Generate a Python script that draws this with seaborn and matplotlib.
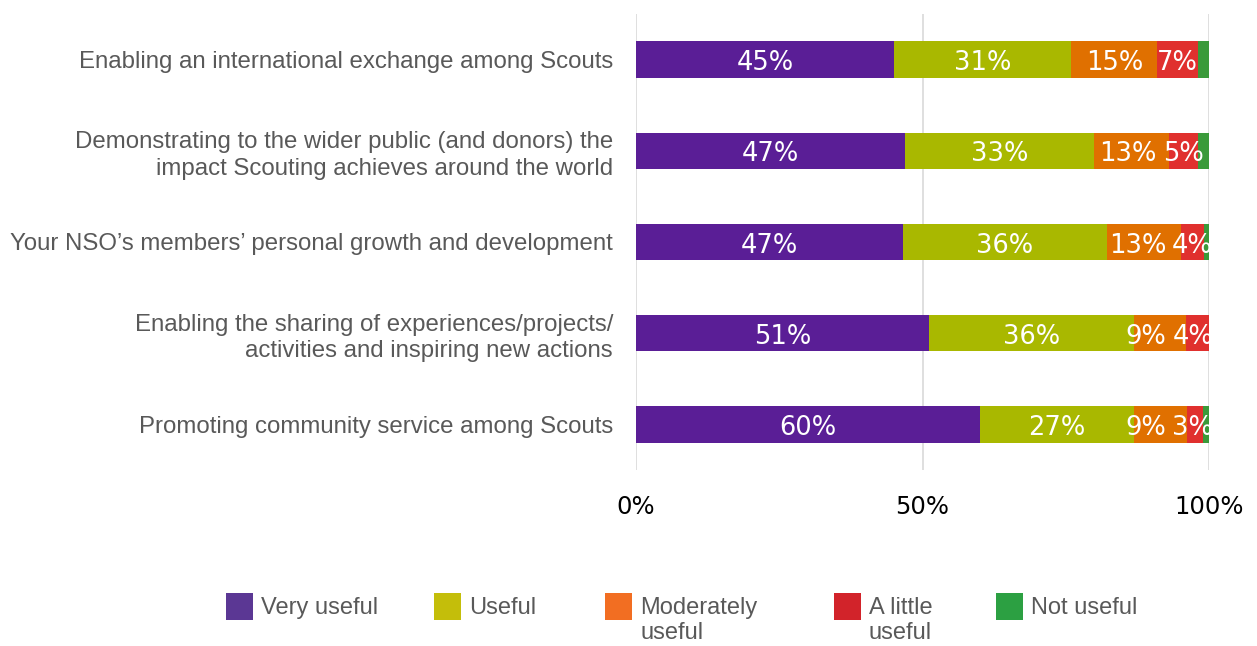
import matplotlib
matplotlib.use("Agg")
import matplotlib.pyplot as plt
from matplotlib.patches import Rectangle
import seaborn as sns
import numpy as np
import pandas as pd

categories = [
    "Enabling an international exchange among Scouts",
    "Demonstrating to the wider public (and donors) the\nimpact Scouting achieves around the world",
    "Your NSO\u2019s members\u2019 personal growth and development",
    "Enabling the sharing of experiences/projects/\nactivities and inspiring new actions",
    "Promoting community service among Scouts",
]
series_names = ["Very useful", "Useful", "Moderately\nuseful", "A little\nuseful", "Not useful"]
very_useful = [45.0, 47.0, 46.6, 51.1, 60.0]
useful = [31.0, 33.0, 35.6, 35.8, 26.9]
moderately_useful = [15.0, 13.0, 12.9, 9.1, 9.3]
a_little_useful = [7.0, 5.0, 4.0, 4.0, 2.8]
not_useful = [2.0, 2.0, 0.9, 0.0, 1.0]
tick_values = [0, 50, 100]
tick_labels = ["0%", "50%", "100%"]

bar_colors = ["#5A1E96", "#A9B800", "#E07000", "#E0302E", "#3A9A3A"]
legend_colors = ["#5B3794", "#C4BE0A", "#F26E22", "#D2232A", "#2CA042"]

sns.set_theme(style="white")
plt.rcParams["font.family"] = ["DejaVu Sans"]

W, H = 1257, 646
fig = plt.figure(figsize=(W / 100, H / 100), dpi=100)
ax = fig.add_axes([636 / W, 1 - 470 / H, 573 / W, 456 / H])

values = [very_useful, useful, moderately_useful, a_little_useful, not_useful]
cum = np.cumsum(np.array(values), axis=0)

# stacked bars: draw cumulative totals back to front
for i in range(len(values) - 1, -1, -1):
    df = pd.DataFrame({"cat": categories, "val": cum[i]})
    sns.barplot(data=df, x="val", y="cat", orient="h", color=bar_colors[i],
                saturation=1, width=0.4, errorbar=None, linewidth=0, ax=ax, zorder=2)

ax.set_xlim(0, 100)
ax.set_ylim(4.5, -0.5)

# segment labels, centred in each segment
row_labels = []
for j, cat in enumerate(categories):
    texts = []
    for i in range(len(values)):
        v = values[i][j]
        if v >= 2.5:
            t = ax.text(cum[i][j] - v / 2, j + 0.04, f"{v:.0f}%", ha="center", va="center",
                        color="white", fontsize=18.5, clip_on=True, zorder=5)
            texts.append(t)
    row_labels.append(texts)

ax.set_xticks(tick_values)
ax.set_xticklabels(tick_labels, fontsize=17.5, color="black")
ax.tick_params(axis="x", length=0, pad=18)
ax.tick_params(axis="y", length=0, pad=16.5)
for lbl in ax.get_yticklabels():
    lbl.set_fontfamily("Liberation Sans")
    lbl.set_fontsize(17.3)
    lbl.set_color("#595959")
    lbl.set_linespacing(1.28)
ax.set_xlabel("")
ax.set_ylabel("")
for s in ax.spines.values():
    s.set_visible(False)
for x in tick_values:
    ax.axvline(x, color="#d9d9d9", lw=1.2, zorder=0)

# nudge crowded labels leftwards so neighbours do not collide
fig.canvas.draw()
renderer = fig.canvas.get_renderer()
px_per_unit = ax.transData.transform((1, 0))[0] - ax.transData.transform((0, 0))[0]
right_limit = ax.transData.transform((100, 0))[0] + 4
gap = 6
for texts in row_labels:
    limit = right_limit
    for t in reversed(texts):
        bb = t.get_window_extent(renderer)
        shift = max(0.0, bb.x1 - limit)
        if shift > 0:
            x, y = t.get_position()
            t.set_position((x - shift / px_per_unit, y))
        limit = bb.x0 - shift - gap

# legend drawn as swatches with labels whose first line sits level with the swatch
legend_x = [226, 434, 605, 834, 996]
sw = 27
sw_top = 593
for name, col, lx in zip(series_names, legend_colors, legend_x):
    fig.patches.append(Rectangle((lx / W, 1 - (sw_top + sw) / H), sw / W, sw / H,
                                 transform=fig.transFigure, facecolor=col, edgecolor="none"))
    fig.text((lx + sw + 8) / W, 1 - (sw_top + 4) / H, name, ha="left", va="top",
             fontsize=17, family="Liberation Sans", color="#595959", linespacing=1.2)

fig.savefig("out.png", dpi=100)
